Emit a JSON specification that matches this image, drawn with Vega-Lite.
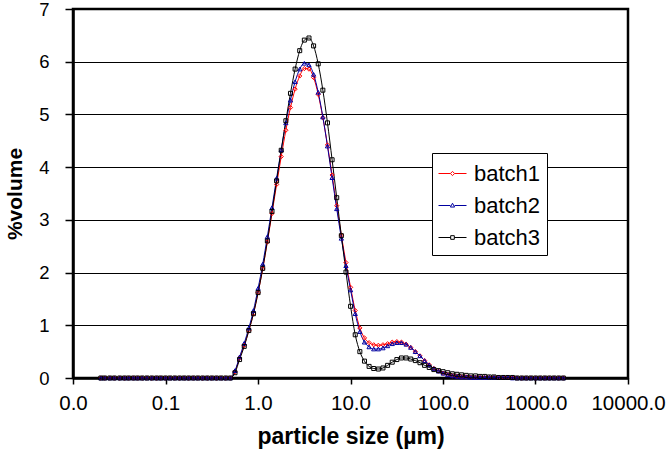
{
  "$schema": "https://vega.github.io/schema/vega-lite/v6.json",
  "width": 555,
  "height": 369,
  "autosize": "none",
  "padding": {"left": 73, "top": 9, "right": 39, "bottom": 74},
  "background": "white",
  "config": {
    "view": {"stroke": "black", "strokeWidth": 2.5},
    "font": "Liberation Sans"
  },
  "data": {
    "values": [
      {"x": 0.020, "batch1": 0, "batch2": 0, "batch3": 0},
      {"x": 0.022, "batch1": 0, "batch2": 0, "batch3": 0},
      {"x": 0.025, "batch1": 0, "batch2": 0, "batch3": 0},
      {"x": 0.028, "batch1": 0, "batch2": 0, "batch3": 0},
      {"x": 0.032, "batch1": 0, "batch2": 0, "batch3": 0},
      {"x": 0.036, "batch1": 0, "batch2": 0, "batch3": 0},
      {"x": 0.040, "batch1": 0, "batch2": 0, "batch3": 0},
      {"x": 0.045, "batch1": 0, "batch2": 0, "batch3": 0},
      {"x": 0.050, "batch1": 0, "batch2": 0, "batch3": 0},
      {"x": 0.056, "batch1": 0, "batch2": 0, "batch3": 0},
      {"x": 0.063, "batch1": 0, "batch2": 0, "batch3": 0},
      {"x": 0.071, "batch1": 0, "batch2": 0, "batch3": 0},
      {"x": 0.080, "batch1": 0, "batch2": 0, "batch3": 0},
      {"x": 0.089, "batch1": 0, "batch2": 0, "batch3": 0},
      {"x": 0.100, "batch1": 0, "batch2": 0, "batch3": 0},
      {"x": 0.112, "batch1": 0, "batch2": 0, "batch3": 0},
      {"x": 0.126, "batch1": 0, "batch2": 0, "batch3": 0},
      {"x": 0.142, "batch1": 0, "batch2": 0, "batch3": 0},
      {"x": 0.159, "batch1": 0, "batch2": 0, "batch3": 0},
      {"x": 0.178, "batch1": 0, "batch2": 0, "batch3": 0},
      {"x": 0.200, "batch1": 0, "batch2": 0, "batch3": 0},
      {"x": 0.224, "batch1": 0, "batch2": 0, "batch3": 0},
      {"x": 0.252, "batch1": 0, "batch2": 0, "batch3": 0},
      {"x": 0.283, "batch1": 0, "batch2": 0, "batch3": 0},
      {"x": 0.317, "batch1": 0, "batch2": 0, "batch3": 0},
      {"x": 0.356, "batch1": 0, "batch2": 0, "batch3": 0},
      {"x": 0.399, "batch1": 0, "batch2": 0, "batch3": 0},
      {"x": 0.448, "batch1": 0, "batch2": 0, "batch3": 0},
      {"x": 0.502, "batch1": 0, "batch2": 0, "batch3": 0},
      {"x": 0.564, "batch1": 0.12, "batch2": 0.14, "batch3": 0.10},
      {"x": 0.632, "batch1": 0.38, "batch2": 0.40, "batch3": 0.35},
      {"x": 0.710, "batch1": 0.62, "batch2": 0.66, "batch3": 0.60},
      {"x": 0.796, "batch1": 0.90, "batch2": 0.95, "batch3": 0.90},
      {"x": 0.893, "batch1": 1.22, "batch2": 1.28, "batch3": 1.22},
      {"x": 1.002, "batch1": 1.62, "batch2": 1.70, "batch3": 1.62},
      {"x": 1.125, "batch1": 2.07, "batch2": 2.16, "batch3": 2.08},
      {"x": 1.262, "batch1": 2.58, "batch2": 2.68, "batch3": 2.60},
      {"x": 1.416, "batch1": 3.12, "batch2": 3.23, "batch3": 3.16},
      {"x": 1.589, "batch1": 3.67, "batch2": 3.79, "batch3": 3.74},
      {"x": 1.783, "batch1": 4.20, "batch2": 4.33, "batch3": 4.32},
      {"x": 2.000, "batch1": 4.70, "batch2": 4.84, "batch3": 4.88},
      {"x": 2.244, "batch1": 5.13, "batch2": 5.27, "batch3": 5.40},
      {"x": 2.518, "batch1": 5.48, "batch2": 5.62, "batch3": 5.86},
      {"x": 2.825, "batch1": 5.73, "batch2": 5.86, "batch3": 6.21},
      {"x": 3.170, "batch1": 5.87, "batch2": 5.97, "batch3": 6.41},
      {"x": 3.557, "batch1": 5.86, "batch2": 5.94, "batch3": 6.45},
      {"x": 3.991, "batch1": 5.70, "batch2": 5.76, "batch3": 6.30},
      {"x": 4.477, "batch1": 5.38, "batch2": 5.42, "batch3": 5.96},
      {"x": 5.024, "batch1": 4.94, "batch2": 4.95, "batch3": 5.46},
      {"x": 5.637, "batch1": 4.42, "batch2": 4.40, "batch3": 4.84},
      {"x": 6.325, "batch1": 3.85, "batch2": 3.80, "batch3": 4.14},
      {"x": 7.096, "batch1": 3.27, "batch2": 3.21, "batch3": 3.42},
      {"x": 7.962, "batch1": 2.71, "batch2": 2.65, "batch3": 2.70},
      {"x": 8.934, "batch1": 2.19, "batch2": 2.13, "batch3": 2.01},
      {"x": 10.024, "batch1": 1.72, "batch2": 1.67, "batch3": 1.36},
      {"x": 11.247, "batch1": 1.28, "batch2": 1.22, "batch3": 0.82},
      {"x": 12.619, "batch1": 0.95, "batch2": 0.88, "batch3": 0.50},
      {"x": 14.159, "batch1": 0.76, "batch2": 0.68, "batch3": 0.32},
      {"x": 15.887, "batch1": 0.67, "batch2": 0.59, "batch3": 0.22},
      {"x": 17.825, "batch1": 0.63, "batch2": 0.55, "batch3": 0.18},
      {"x": 20.000, "batch1": 0.62, "batch2": 0.55, "batch3": 0.17},
      {"x": 22.440, "batch1": 0.63, "batch2": 0.57, "batch3": 0.19},
      {"x": 25.179, "batch1": 0.65, "batch2": 0.61, "batch3": 0.24},
      {"x": 28.251, "batch1": 0.68, "batch2": 0.65, "batch3": 0.30},
      {"x": 31.698, "batch1": 0.69, "batch2": 0.67, "batch3": 0.35},
      {"x": 35.566, "batch1": 0.68, "batch2": 0.67, "batch3": 0.38},
      {"x": 39.905, "batch1": 0.64, "batch2": 0.64, "batch3": 0.38},
      {"x": 44.774, "batch1": 0.58, "batch2": 0.58, "batch3": 0.36},
      {"x": 50.238, "batch1": 0.50, "batch2": 0.50, "batch3": 0.33},
      {"x": 56.368, "batch1": 0.42, "batch2": 0.42, "batch3": 0.29},
      {"x": 63.246, "batch1": 0.33, "batch2": 0.33, "batch3": 0.24},
      {"x": 70.963, "batch1": 0.25, "batch2": 0.25, "batch3": 0.20},
      {"x": 79.621, "batch1": 0.18, "batch2": 0.18, "batch3": 0.16},
      {"x": 89.337, "batch1": 0.13, "batch2": 0.13, "batch3": 0.14},
      {"x": 100.237, "batch1": 0.09, "batch2": 0.09, "batch3": 0.12},
      {"x": 112.468, "batch1": 0.06, "batch2": 0.06, "batch3": 0.10},
      {"x": 126.191, "batch1": 0.04, "batch2": 0.04, "batch3": 0.08},
      {"x": 141.589, "batch1": 0.03, "batch2": 0.03, "batch3": 0.07},
      {"x": 158.866, "batch1": 0.02, "batch2": 0.02, "batch3": 0.06},
      {"x": 178.250, "batch1": 0.02, "batch2": 0.02, "batch3": 0.05},
      {"x": 200.000, "batch1": 0.01, "batch2": 0.01, "batch3": 0.04},
      {"x": 224.404, "batch1": 0.01, "batch2": 0.01, "batch3": 0.04},
      {"x": 251.785, "batch1": 0.01, "batch2": 0.01, "batch3": 0.03},
      {"x": 282.508, "batch1": 0.01, "batch2": 0.01, "batch3": 0.03},
      {"x": 316.979, "batch1": 0.01, "batch2": 0.01, "batch3": 0.02},
      {"x": 355.656, "batch1": 0.01, "batch2": 0.01, "batch3": 0.02},
      {"x": 399.052, "batch1": 0.01, "batch2": 0.01, "batch3": 0.01},
      {"x": 447.744, "batch1": 0.01, "batch2": 0.01, "batch3": 0.01},
      {"x": 502.377, "batch1": 0.01, "batch2": 0.01, "batch3": 0.01},
      {"x": 563.677, "batch1": 0.01, "batch2": 0, "batch3": 0.01},
      {"x": 632.456, "batch1": 0, "batch2": 0, "batch3": 0},
      {"x": 709.627, "batch1": 0, "batch2": 0, "batch3": 0},
      {"x": 796.214, "batch1": 0, "batch2": 0, "batch3": 0},
      {"x": 893.367, "batch1": 0, "batch2": 0, "batch3": 0},
      {"x": 1002.374, "batch1": 0, "batch2": 0, "batch3": 0},
      {"x": 1124.683, "batch1": 0, "batch2": 0, "batch3": 0},
      {"x": 1261.915, "batch1": 0, "batch2": 0, "batch3": 0},
      {"x": 1415.892, "batch1": 0, "batch2": 0, "batch3": 0},
      {"x": 1588.656, "batch1": 0, "batch2": 0, "batch3": 0},
      {"x": 1782.502, "batch1": 0, "batch2": 0, "batch3": 0},
      {"x": 2000, "batch1": 0, "batch2": 0, "batch3": 0}
    ]
  },
  "transform": [
    {"fold": ["batch1", "batch2", "batch3"], "as": ["series", "value"]}
  ],
  "encoding": {
    "x": {
      "field": "x", "type": "quantitative",
      "scale": {"type": "log", "domain": [0.01, 10000], "nice": false},
      "axis": {
        "title": "particle size (µm)",
        "values": [0.01, 0.1, 1, 10, 100, 1000, 10000],
        "format": ".1f",
        "grid": false,
        "domainColor": "black", "domainWidth": 2.5,
        "tickColor": "black", "tickSize": 6, "tickWidth": 1.5,
        "labelFont": "Liberation Sans", "labelFontSize": 20.5, "labelColor": "black",
        "labelPadding": 9, "labelFlush": false, "labelOverlap": false,
        "titleFont": "Liberation Sans", "titleFontSize": 23, "titleFontWeight": "bold",
        "titleColor": "black", "titlePadding": 12
      }
    },
    "y": {
      "field": "value", "type": "quantitative",
      "scale": {"domain": [0, 7], "nice": false},
      "axis": {
        "title": "%volume",
        "values": [0, 1, 2, 3, 4, 5, 6, 7],
        "grid": true, "gridColor": "black", "gridWidth": 1.2, "gridOpacity": 1,
        "domainColor": "black", "domainWidth": 2.5,
        "tickColor": "black", "tickSize": 8, "tickWidth": 1.5,
        "labelFont": "Liberation Sans", "labelFontSize": 18.5, "labelColor": "black",
        "labelPadding": 16,
        "titleFont": "Liberation Sans", "titleFontSize": 21, "titleFontWeight": "bold",
        "titleColor": "black", "titlePadding": 13
      }
    },
    "color": {
      "field": "series", "type": "nominal",
      "scale": {"domain": ["batch1", "batch2", "batch3"], "range": ["#ff0000", "#0000a0", "#000000"]},
      "legend": {
        "orient": "none", "legendX": 359, "legendY": 144,
        "title": null,
        "strokeColor": "black", "fillColor": "white",
        "padding": 6, "rowPadding": 6,
        "labelFont": "Liberation Sans", "labelFontSize": 22, "labelColor": "black",
        "labelOffset": 7, "symbolSize": 784, "symbolStrokeWidth": 1,
        "symbolType": "M-1,0H-0.15M0.15,0H1M-0.15,0L0,-0.15L0.15,0L0,0.15Z",
        "encode": {
          "symbols": {
            "update": {
              "shape": {"signal": "datum.value === 'batch1' ? 'M-1,0H-0.15M0.15,0H1M-0.15,0L0,-0.15L0.15,0L0,0.15Z' : datum.value === 'batch2' ? 'M-1,0H-0.15M0.15,0H1M0,-0.16L0.15,0.11L-0.15,0.11Z' : 'M-1,0H-0.13M0.13,0H1M-0.13,-0.13H0.13V0.13H-0.13Z'"},
              "stroke": {"signal": "scale('color', datum.value)"},
              "fill": {"value": "white"},
              "strokeWidth": {"value": 1},
              "opacity": {"value": 1}
            }
          }
        }
      }
    }
  },
  "layer": [
    {
      "mark": {"type": "line", "strokeWidth": 1, "interpolate": "monotone"}
    },
    {
      "transform": [{"filter": "datum.series === 'batch1'"}],
      "mark": {"type": "point", "shape": "diamond", "filled": false, "size": 18, "strokeWidth": 1, "opacity": 1}
    },
    {
      "transform": [{"filter": "datum.series === 'batch2'"}],
      "mark": {"type": "point", "shape": "triangle-up", "filled": false, "size": 18, "strokeWidth": 1, "opacity": 1}
    },
    {
      "transform": [{"filter": "datum.series === 'batch3'"}],
      "mark": {"type": "point", "shape": "square", "filled": false, "size": 16, "strokeWidth": 1, "opacity": 1}
    }
  ]
}
